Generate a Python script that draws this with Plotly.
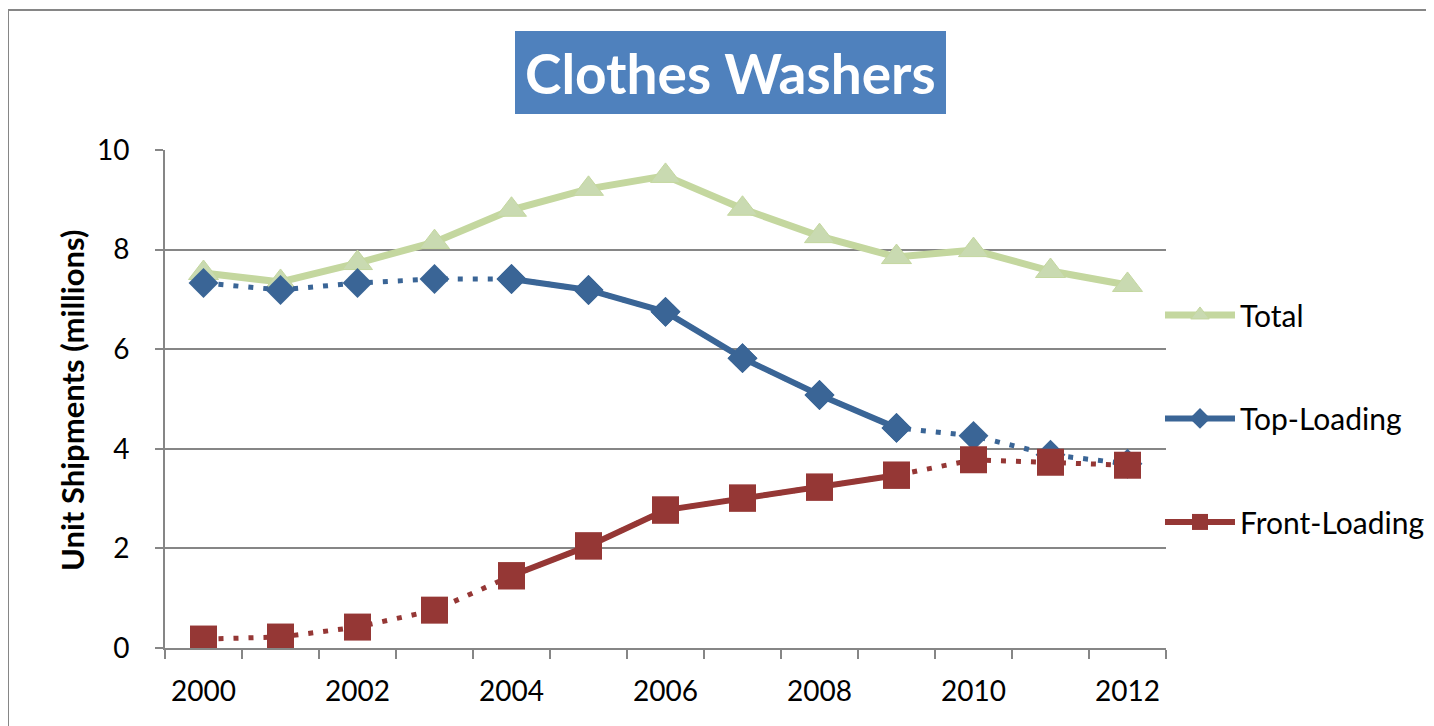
import plotly.graph_objects as go

years = list(range(2000, 2013))
total = [7.53, 7.35, 7.73, 8.15, 8.80, 9.22, 9.48, 8.82, 8.27, 7.85, 7.99, 7.57, 7.29]
top_loading = [7.33, 7.19, 7.33, 7.41, 7.41, 7.19, 6.75, 5.82, 5.08, 4.42, 4.26, 3.88, 3.70]
front_loading = [0.18, 0.22, 0.42, 0.76, 1.45, 2.05, 2.77, 3.01, 3.23, 3.47, 3.78, 3.73, 3.67]
solid_years = (2004, 2009)   # measured (solid) span; other years drawn dotted
y_ticks = [0, 2, 4, 6, 8, 10]
x_labels = [2000, 2002, 2004, 2006, 2008, 2010, 2012]

GREEN = "#C4D79F"
GREEN_M = "#C9DAB1"
BLUE = "#3A6596"
RED = "#953735"
FONT = "Lato"
DOT = "5px,10px"

def solid_part(vals):
    return [v if solid_years[0] <= y <= solid_years[1] else None for y, v in zip(years, vals)]

fig = go.Figure()
fig.add_trace(go.Scatter(
    x=years, y=total, name="Total", mode="lines+markers", legendgroup="t",
    line=dict(color=GREEN, width=7),
    marker=dict(symbol="triangle-up", size=26, color=GREEN_M, line=dict(color=GREEN, width=1)),
))
fig.add_trace(go.Scatter(
    x=years, y=top_loading, name="Top-Loading", mode="lines+markers", showlegend=False,
    legendgroup="b",
    line=dict(color=BLUE, width=5, dash=DOT),
    marker=dict(symbol="diamond", size=23, color=BLUE),
))
fig.add_trace(go.Scatter(
    x=years, y=solid_part(top_loading), name="Top-Loading", mode="lines+markers",
    legendgroup="b", connectgaps=False,
    line=dict(color=BLUE, width=6),
    marker=dict(symbol="diamond", size=23, color=BLUE),
))
fig.add_trace(go.Scatter(
    x=years, y=front_loading, name="Front-Loading", mode="lines+markers", showlegend=False,
    legendgroup="r",
    line=dict(color=RED, width=5, dash=DOT),
    marker=dict(symbol="square", size=27, color=RED),
))
fig.add_trace(go.Scatter(
    x=years, y=solid_part(front_loading), name="Front-Loading", mode="lines+markers",
    legendgroup="r", connectgaps=False,
    line=dict(color=RED, width=6),
    marker=dict(symbol="square", size=27, color=RED),
))

fig.update_layout(
    width=1434, height=726,
    margin=dict(l=157, r=276, t=142, b=86),
    paper_bgcolor="white", plot_bgcolor="white",
    font=dict(family=FONT, size=28, color="black"),
    showlegend=True,
    legend=dict(
        x=0.994, xanchor="left", y=0.721, yanchor="top",
        tracegroupgap=61.5, itemwidth=70,
        font=dict(family=FONT, size=30, color="black"),
        bgcolor="rgba(0,0,0,0)",
    ),
    xaxis=dict(
        range=[1999.5, 2012.5], tickmode="array", tickvals=x_labels,
        ticktext=[str(v) for v in x_labels],
        ticks="", showgrid=False, zeroline=False,
        showline=True, linecolor="#868686", linewidth=2,
        tickfont=dict(family=FONT, size=28, color="black"),
        ticklabelstandoff=17,
        minor=dict(tickmode="array", tickvals=[y + 0.5 for y in range(1999, 2013)],
                   ticks="outside", ticklen=9, tickwidth=2, tickcolor="#868686",
                   showgrid=False),
    ),
    yaxis=dict(
        range=[0, 10], tickmode="array", tickvals=y_ticks,
        ticks="outside", ticklen=8, tickwidth=2, tickcolor="#868686",
        showgrid=True, gridcolor="#868686", gridwidth=2, zeroline=False,
        showline=True, linecolor="#868686", linewidth=2,
        tickfont=dict(family=FONT, size=28, color="black"),
        ticklabelstandoff=20,
    ),
)

# plot area in screen px: x 165..1166, y 150..648
def px(x):
    return (x - 165) / 1001

def py(y):
    return (648 - y) / 498

# Chart border (top and left edges visible)
fig.add_shape(type="line", xref="paper", yref="paper",
              x0=px(8), x1=px(1440), y0=py(10), y1=py(10),
              line=dict(color="#868686", width=2))
fig.add_shape(type="line", xref="paper", yref="paper",
              x0=px(8), x1=px(8), y0=py(10), y1=py(740),
              line=dict(color="#868686", width=2))

# Title box
fig.add_shape(type="rect", xref="paper", yref="paper",
              x0=px(515), x1=px(946), y0=py(114), y1=py(31),
              fillcolor="#4F81BD", line=dict(width=0), layer="below")
fig.add_annotation(text="<b>Clothes Washers</b>", xref="paper", yref="paper",
                   x=px(730), y=py(73), xanchor="center", yanchor="middle",
                   showarrow=False, font=dict(family=FONT, size=55, color="white"))

# Y axis title
fig.add_annotation(text="<b>Unit Shipments (millions)</b>", xref="paper", yref="paper",
                   x=px(72), y=py(401), xanchor="center", yanchor="middle",
                   textangle=-90, showarrow=False, font=dict(family=FONT, size=31, color="black"))

fig.write_html("out.html")
